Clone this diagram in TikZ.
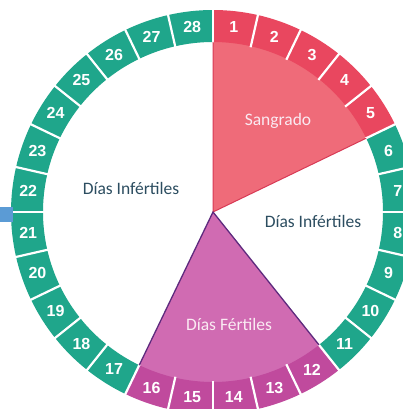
\documentclass[tikz,border=0pt]{standalone}
\usepackage{fontspec}
\setmainfont{Carlito}
\newfontfamily\numfont{Liberation Sans}
\definecolor{ringpink}{HTML}{E9475F}
\definecolor{sangin}{HTML}{EF6B79}
\definecolor{sangedge}{HTML}{D83A55}
\definecolor{ringteal}{HTML}{1FA68B}
\definecolor{ringpurple}{HTML}{C04A9D}
\definecolor{fertin}{HTML}{D06BB2}
\definecolor{fertedge}{HTML}{5E2A7E}
\definecolor{labeltext}{HTML}{2C4D60}
\definecolor{softwhite}{HTML}{FAEAF2}
\definecolor{bluebar}{HTML}{5B9BD5}
\tikzset{
  daynum/.style={text=white, font=\numfont\bfseries\fontsize{16}{18}\selectfont, inner sep=0pt},
  zonelabel/.style={font=\fontsize{17.5}{20}\selectfont, inner sep=0pt},
  separator/.style={white, line width=2.2pt},
}
\begin{document}
\begin{tikzpicture}[x=1pt,y=1pt]
\useasboundingbox (0,0) rectangle (403,409);
\clip (0,0) rectangle (403,409);
\pgfmathsetmacro\segang{360/28}
\begin{scope}[shift={(213,197)}]
\coordinate (c) at (0,0);
% wedges
\fill[sangin] (c) -- (90:171) arc[start angle=90, end angle={90-5*\segang}, radius=171] -- cycle;
\fill[fertin] (c) -- ({90-11*\segang}:171) arc[start angle={90-11*\segang}, end angle={90-16*\segang}, radius=171] -- cycle;
% ring
\foreach \i in {1,...,28}{
  \pgfmathsetmacro\aa{90-(\i-1)*\segang}
  \pgfmathsetmacro\ab{90-\i*\segang}
  \ifnum\i<6 \def\col{ringpink}\else\ifnum\i<12 \def\col{ringteal}\else\ifnum\i<17 \def\col{ringpurple}\else\def\col{ringteal}\fi\fi\fi
  \fill[\col] (\aa:170) arc[start angle=\aa, end angle=\ab, radius=170] -- (\ab:202) arc[start angle=\ab, end angle=\aa, radius=202] -- cycle;
}
\foreach \i in {0,...,27}{
  \draw[separator] ({90-\i*\segang}:169) -- ({90-\i*\segang}:204);
}
% wedge edges
\coordinate (s1) at (90:170);
\coordinate (s2) at ({90-5*\segang}:170);
\coordinate (f1) at ({90-11*\segang}:170);
\coordinate (f2) at ({90-16*\segang}:170);
\draw[sangedge, line width=1pt] (s1) -- (c) -- (s2);
\draw[fertedge, line width=1.3pt] (f1) -- (c) -- (f2);
% numbers
\foreach \i in {1,...,28}{
  \node[daynum] (n\i) at ({90-(\i-0.5)*\segang}:186) {\i};
}
% labels
\node[zonelabel, text=softwhite] (sang) at (65,91) {Sangrado};
\node[zonelabel, text=softwhite] (fert) at (16,-112) {Días Fértiles};
\node[zonelabel, text=labeltext] (infl) at (-82,24) {Días Infértiles};
\node[zonelabel, text=labeltext] (infr) at (100,-9) {Días Infértiles};
\end{scope}
\fill[bluebar] (0,187) rectangle (13,202);
\end{tikzpicture}
\end{document}
